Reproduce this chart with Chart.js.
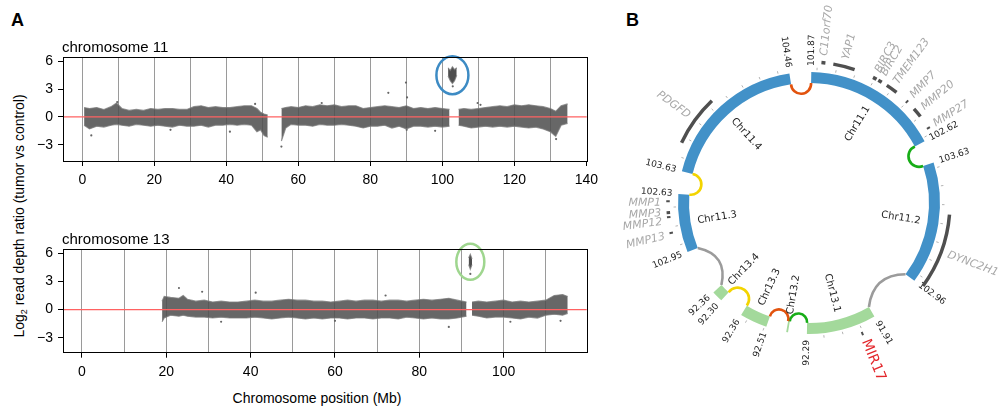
<!DOCTYPE html>
<html>
<head>
<meta charset="utf-8">
<script src="https://cdn.jsdelivr.net/npm/chart.js@4.4.1/dist/chart.umd.min.js"></script>
<style>
  body { margin:0; background:#fff; width:998px; height:412px; overflow:hidden; position:relative; font-family:"Liberation Sans", Arial, sans-serif; color:#000; }
  canvas { position:absolute; }
  #c11 { left:0; top:30px; }
  #c13 { left:0; top:222px; }
  #ring { left:620px; top:0; }
  .panel { position:absolute; font-weight:bold; font-size:18px; line-height:18px; }
  .ylab { position:absolute; left:20px; top:216px; transform:translate(-50%,-50%) rotate(-90deg); white-space:nowrap; font-size:14px; }
  .ylab sub { font-size:9px; }
  .xlab { position:absolute; left:317px; top:398px; transform:translate(-50%,-50%); white-space:nowrap; font-size:14px; }
</style>
</head>
<body>
<div class="panel" style="left:11px;top:11px">A</div>
<div class="panel" style="left:626px;top:11px">B</div>
<div class="ylab">Log<sub>2</sub> read depth ratio (tumor vs control)</div>
<div class="xlab">Chromosome position (Mb)</div>
<canvas id="c11" width="610" height="165"></canvas>
<canvas id="c13" width="610" height="165"></canvas>
<canvas id="ring" width="378" height="412"></canvas>
<script>
// ---- panel A: read depth ratio, chromosome 11 (band limits per bin, Mb) ----
const chr11Pos  = [0.5,2,4,6,8,9.5,11,13,15,17,19,21,23,25,27,29,31,33,35,37,39,41,43,45,47,48.5,49.5,50.5,51.5,53,55.3,56.5,58,
  60,62,64,66,68,70,72,74,76,78,80,82,84,86,88,90,92,94,96,98,100,102,103.2,104.5,106,108,
  110,112,114,116,118,120,122,124,126,128,130,131.5,133,134.8];
const chr11High = [1.0,0.9,1.0,0.8,1.1,1.5,0.9,0.7,0.8,0.7,0.9,0.8,0.9,0.9,0.8,0.8,1.1,1.2,1.0,1.1,1.0,1.0,1.1,1.2,1.2,0.9,0.5,0.3,0.2,null,0.9,1.0,1.1,
  1.0,1.2,1.1,1.3,1.2,1.3,1.1,1.2,1.2,0.9,1.0,1.1,1.2,1.1,1.0,1.2,0.9,1.0,0.9,1.0,0.9,0.8,null,0.8,0.9,0.8,
  0.9,1.0,1.1,1.2,1.1,1.3,1.2,1.3,1.2,1.1,0.9,0.6,1.2,1.4];
const chr11Low  = [-0.9,-1.3,-1.0,-1.1,-0.9,-0.8,-0.9,-1.0,-0.8,-0.9,-1.0,-0.9,-1.0,-1.1,-0.9,-1.0,-1.0,-0.9,-1.1,-0.9,-0.9,-0.8,-0.9,-0.8,-0.9,-1.6,-1.4,-2.0,-2.2,null,-2.6,-1.2,-0.8,
  -0.9,-0.9,-1.0,-0.8,-0.9,-0.9,-0.8,-0.9,-1.0,-1.2,-1.0,-1.0,-0.9,-1.2,-1.0,-1.3,-1.0,-1.0,-1.1,-1.0,-1.1,-1.0,null,-0.9,-1.0,-1.2,
  -1.1,-1.0,-1.1,-1.0,-1.1,-1.0,-1.1,-1.2,-1.1,-1.3,-1.6,-2.1,-0.9,-0.7];
const chr11AmpPos  = [101.6,102.2,102.8,103.4,104.0];
const chr11AmpHigh = [5.3,5.0,5.4,5.1,5.3];
const chr11AmpLow  = [4.4,3.9,3.6,3.9,4.5];
const chr11OutX = [2.5,9.7,24.5,41,48,55.3,66.5,85,89.9,90.2,90.1,98,102.9,109.8,110.6,131.6];
const chr11OutY = [-2.0,1.6,-1.4,-1.6,1.4,-3.2,1.5,2.6,3.7,2.1,-1.4,-1.5,3.3,1.5,1.3,-2.4];

// ---- chromosome 13 ----
const chr13Pos  = [19,19.5,21,23,24,25,27,29,31,33,35,37,39,41,43,45,47,49,51,53,55,57,59,61,63,65,67,69,71,73,75,77,79,81,83,85,87,89,
  91.2,91.8,92.5,94,96,98,100,102,104,106,108,110,112,114,115.2];
const chr13High = [0.9,1.4,1.3,1.2,1.5,1.1,0.9,1.0,0.8,0.9,0.8,0.8,0.9,1.0,0.9,0.9,1.0,1.1,1.0,1.0,0.9,0.9,0.8,0.9,1.0,0.9,1.0,1.0,0.9,1.0,1.0,0.9,1.0,1.1,1.0,1.1,1.2,1.0,
  0.8,null,0.8,0.9,0.8,0.9,1.0,0.8,0.9,0.8,0.9,1.0,1.5,1.6,1.4];
const chr13Low  = [-1.3,-0.9,-0.6,-0.7,-0.6,-0.7,-0.8,-0.8,-0.9,-0.8,-0.9,-0.9,-0.9,-0.8,-0.9,-1.0,-0.9,-0.8,-0.9,-1.0,-0.9,-1.0,-0.9,-0.9,-1.0,-0.9,-0.9,-1.0,-0.9,-0.9,-1.0,-0.8,-0.9,-1.0,-0.9,-1.0,-1.0,-0.9,
  -0.7,null,-0.6,-0.7,-0.9,-0.8,-0.8,-0.9,-1.0,-0.8,-0.9,-0.6,-0.5,-0.6,-0.4];
const chr13AmpPos  = [91.7,92.1,92.5];
const chr13AmpHigh = [5.5,5.9,5.4];
const chr13AmpLow  = [4.8,4.3,4.8];
const chr13OutX = [23,28.5,41.2,33,60,72,87,92.1,101.6,113.5];
const chr13OutY = [2.3,1.9,1.8,-1.3,-1.2,1.5,-1.85,3.8,-1.3,-1.2];

const yTicks = [-3, 0, 3, 6];

// ---- panel B: rearranged segments ----
const segNames = ['Chr11.1','Chr11.2','Chr13.1','Chr13.2','Chr13.3','Chr13.4','Chr11.3','Chr11.4'];
const segFrom  = [101.87, 103.63, 91.91, 92.29, 92.51, 92.30, 102.95, 103.63];
const segTo    = [102.62, 102.96, 92.29, 92.30, 92.36, 92.36, 102.63, 104.46];
const linkType = ['green','gray','green','red','yellow','gray','yellow','red'];

const geneNames = ['PDGFD','C11orf70','YAP1','BIRC3','BIRC2','TMEM123','MMP7','MMP20','MMP27','MMP1','MMP3','MMP12','MMP13','DYNC2H1','MIR17'];
const geneSeg   = ['Chr11.4','Chr11.1','Chr11.1','Chr11.1','Chr11.1','Chr11.1','Chr11.1','Chr11.1','Chr11.1','Chr11.3','Chr11.3','Chr11.3','Chr11.3','Chr11.2','Chr13.1'];
const geneStart = [103.77,101.92,101.98,102.19,102.22,102.27,102.395,102.45,102.565,102.665,102.72,102.745,102.825,102.965,92.00];
const geneEnd   = [104.03,101.94,102.09,102.21,102.24,102.33,102.405,102.50,102.575,102.675,102.735,102.755,102.835,103.35,92.01];

// layout of the circle (degrees)
const START_DEG = 1;
const gapAfter = [10.1, 23.6, 8.3, 9.0, 10.8, 21.1, 10.0, 9.6];
const labelNudge = { MMP1: -0.7, MMP12: -1.6, MMP13: -0.8 };
const LINK_COLORS = { green:'#17ad17', gray:'#9b9b9b', red:'#e2530e', yellow:'#f3d400' };
const BLUE = '#4291c8', GREEN = '#a3d99b';
const AX_FONT = { family:'"Liberation Sans", Arial, sans-serif', size:14 };

const panelDeco = {
  id: 'panelDeco',
  afterDatasetsDraw(chart, args, o) {
    const { ctx, chartArea: a, scales: { x, y } } = chart;
    ctx.save();
    const y0 = y.getPixelForValue(0);
    ctx.strokeStyle = '#ff6262';
    ctx.lineWidth = 1.3;
    ctx.beginPath(); ctx.moveTo(a.left, y0); ctx.lineTo(a.right, y0); ctx.stroke();
    // ring around the amplified cluster
    const ax = o.ampPos.reduce((s, v) => s + v, 0) / o.ampPos.length;
    const ay = (Math.max(...o.ampHigh) + Math.min(...o.ampLow)) / 2;
    ctx.strokeStyle = o.ringColor;
    ctx.lineWidth = 2.5;
    ctx.beginPath();
    ctx.ellipse(x.getPixelForValue(ax), y.getPixelForValue(ay), o.rx, o.ry, 0, 0, Math.PI * 2);
    ctx.stroke();
    ctx.strokeStyle = '#000';
    ctx.lineWidth = 1;
    ctx.strokeRect(Math.round(a.left) + 0.5, Math.round(a.top) + 0.5, Math.round(a.right - a.left), Math.round(a.bottom - a.top));
    ctx.fillStyle = '#000';
    ctx.font = '15px "Liberation Sans", Arial, sans-serif';
    ctx.textAlign = 'left';
    ctx.textBaseline = 'alphabetic';
    ctx.fillText(o.title, a.left - 1, a.top - 5);
    ctx.restore();
  }
};

function band(pos, vals, extra) {
  return Object.assign({
    data: pos.map((x, i) => ({ x, y: vals[i] })),
    pointRadius: 0, borderWidth: 1.2, borderColor: 'rgba(120,120,120,0.75)',
    tension: 0, spanGaps: false, fill: false
  }, extra);
}

function makeChr(id, d) {
  return new Chart(document.getElementById(id), {
    type: 'line',
    data: {
      datasets: [
        band(d.pos, d.high, {}),
        band(d.pos, d.low, { fill: '-1', backgroundColor: 'rgba(78,78,78,0.86)' }),
        band(d.ampPos, d.ampHigh, {}),
        band(d.ampPos, d.ampLow, { fill: '-1', backgroundColor: 'rgba(60,60,60,0.9)' }),
        { data: d.outX.map((x, i) => ({ x, y: d.outY[i] })), showLine: false, pointRadius: 1.1,
          pointBackgroundColor: '#666', pointBorderWidth: 0 }
      ]
    },
    options: {
      responsive: false, animation: false, events: [],
      layout: { autoPadding: false, padding: d.padding },
      plugins: {
        legend: { display: false }, tooltip: { enabled: false },
        panelDeco: { title: d.title, ringColor: d.ringColor, rx: d.rx, ry: d.ry,
                     ampPos: d.ampPos, ampHigh: d.ampHigh, ampLow: d.ampLow }
      },
      scales: {
        x: {
          type: 'linear', min: d.xMin, max: d.xMax,
          afterFit: s => { s.height = 30; s.paddingLeft = 0; s.paddingRight = 0; },
          border: { display: false },
          grid: {
            color: c => (c.tick && c.tick.value >= 0 && c.tick.value < d.xMax - 1) ? '#9a9a9a' : 'rgba(0,0,0,0)',
            lineWidth: 1, tickLength: 5,
            tickColor: c => (c.tick && c.tick.value % 20 === 0) ? '#000' : 'rgba(0,0,0,0)'
          },
          ticks: { stepSize: 10, includeBounds: false, autoSkip: false, maxRotation: 0, padding: 6,
                   color: '#000', font: AX_FONT, callback: v => (v % 20 === 0 ? String(v) : '') }
        },
        y: {
          min: d.yMin, max: d.yMax,
          afterFit: s => { s.width = 40; s.paddingTop = 0; s.paddingBottom = 0; },
          afterBuildTicks: s => { s.ticks = yTicks.map(v => ({ value: v })); },
          border: { display: false },
          grid: { drawOnChartArea: false, tickLength: 5, tickColor: '#000' },
          ticks: { padding: 5, color: '#000', font: AX_FONT, callback: v => (v < 0 ? '\u2212' + Math.abs(v) : String(v)) }
        }
      }
    },
    plugins: [panelDeco]
  });
}

makeChr('c11', {
  title: 'chromosome 11', pos: chr11Pos, high: chr11High, low: chr11Low,
  ampPos: chr11AmpPos, ampHigh: chr11AmpHigh, ampLow: chr11AmpLow, outX: chr11OutX, outY: chr11OutY,
  xMin: -5.36, xMax: 140.1, yMin: -4.76, yMax: 6.46,
  padding: { left: 23, right: 23.3, top: 27, bottom: 4 },
  ringColor: '#3d8bc4', rx: 16, ry: 19
});
makeChr('c13', {
  title: 'chromosome 13', pos: chr13Pos, high: chr13High, low: chr13Low,
  ampPos: chr13AmpPos, ampHigh: chr13AmpHigh, ampLow: chr13AmpLow, outX: chr13OutX, outY: chr13OutY,
  xMin: -4.5, xMax: 119.7, yMin: -4.6, yMax: 6.43,
  padding: { left: 23, right: 23.3, top: 27.3, bottom: 4.3 },
  ringColor: '#9fd68f', rx: 14, ry: 18
});

// ---- panel B ----
const mbTotal = segFrom.reduce((s, v, i) => s + Math.abs(segTo[i] - v), 0);
const degPerMb = (360 - gapAfter.reduce((s, v) => s + v, 0)) / mbTotal;
const arcValues = [], arcColors = [];
segNames.forEach((n, i) => {
  arcValues.push(Math.abs(segTo[i] - segFrom[i]) * degPerMb);
  arcColors.push(n.startsWith('Chr11') ? BLUE : GREEN);
  arcValues.push(gapAfter[i]);
  arcColors.push('rgba(0,0,0,0)');
});

function radialText(ctx, cx, cy, a, r, text, mode) {
  const th = (((a + Math.PI / 2) % (2 * Math.PI)) + 2 * Math.PI) % (2 * Math.PI);
  const right = th < Math.PI;
  ctx.save();
  ctx.translate(cx + r * Math.cos(a), cy + r * Math.sin(a));
  ctx.rotate(right ? a : a + Math.PI);
  ctx.textBaseline = 'middle';
  ctx.textAlign = mode === 'center' ? 'center' : (right ? 'left' : 'right');
  ctx.fillText(text, 0, 0);
  ctx.restore();
}

const ringDeco = {
  id: 'ringDeco',
  afterDatasetsDraw(chart) {
    const ctx = chart.ctx;
    const arcs = chart.getDatasetMeta(0).data;
    const cx = arcs[0].x, cy = arcs[0].y;
    const rOut = arcs[0].outerRadius, rIn = arcs[0].innerRadius;
    const P = (a, r) => [cx + r * Math.cos(a), cy + r * Math.sin(a)];
    const seg = i => arcs[2 * i];
    const angleOf = (i, mb) => {
      const s = seg(i);
      return s.startAngle + (mb - segFrom[i]) / (segTo[i] - segFrom[i]) * (s.endAngle - s.startAngle);
    };
    const n = segNames.length;
    ctx.save();

    // links between neighbouring segment ends
    ctx.lineWidth = 2.6;
    for (let i = 0; i < n; i++) {
      const a1 = seg(i).endAngle;
      let a2 = seg((i + 1) % n).startAngle;
      if (a2 < a1) a2 += Math.PI * 2;
      const p1 = P(a1, rIn), p2 = P(a2, rIn);
      ctx.strokeStyle = LINK_COLORS[linkType[i]];
      ctx.beginPath();
      if (a2 - a1 > 0.3) {
        const c = P((a1 + a2) / 2, rIn * 0.8);
        ctx.moveTo(p1[0], p1[1]);
        ctx.quadraticCurveTo(c[0], c[1], p2[0], p2[1]);
      } else {
        const mx = (p1[0] + p2[0]) / 2, my = (p1[1] + p2[1]) / 2;
        const rad = Math.hypot(p2[0] - p1[0], p2[1] - p1[1]) / 2;
        const al = Math.atan2(p1[1] - my, p1[0] - mx);
        const inward = Math.cos(al + Math.PI / 2) * (cx - mx) + Math.sin(al + Math.PI / 2) * (cy - my) > 0;
        ctx.arc(mx, my, rad, al, inward ? al + Math.PI : al - Math.PI, !inward);
      }
      ctx.stroke();
    }

    // 100 kb ticks
    ctx.strokeStyle = '#b3b3b3';
    ctx.lineWidth = 1;
    for (let i = 0; i < n; i++) {
      const lo = Math.min(segFrom[i], segTo[i]), hi = Math.max(segFrom[i], segTo[i]);
      for (let k = Math.ceil(lo * 10 + 1e-6); k <= Math.floor(hi * 10 - 1e-6); k++) {
        const a = angleOf(i, k / 10);
        const p = P(a, rOut + 2), q = P(a, rOut + 4.5);
        ctx.beginPath(); ctx.moveTo(p[0], p[1]); ctx.lineTo(q[0], q[1]); ctx.stroke();
      }
    }

    // segment names and end coordinates
    ctx.fillStyle = '#1e1e1e';
    for (let i = 0; i < n; i++) {
      const s = seg(i);
      ctx.font = '10px "DejaVu Sans", sans-serif';
      radialText(ctx, cx, cy, (s.startAngle + s.endAngle) / 2, rOut - 38, segNames[i], 'center');
      if (s.endAngle - s.startAngle < 0.03) continue;
      ctx.font = '9px "DejaVu Sans", sans-serif';
      radialText(ctx, cx, cy, s.startAngle, rOut + 6, segFrom[i].toFixed(2), 'out');
      radialText(ctx, cx, cy, s.endAngle, rOut + 6, segTo[i].toFixed(2), 'out');
    }

    // genes
    geneNames.forEach((g, j) => {
      const i = segNames.indexOf(geneSeg[j]);
      let a1 = angleOf(i, geneStart[j]), a2 = angleOf(i, geneEnd[j]);
      if (a2 < a1) [a1, a2] = [a2, a1];
      const mid = (a1 + a2) / 2;
      if (a2 - a1 < 0.014) { a1 = mid - 0.007; a2 = mid + 0.007; }
      ctx.strokeStyle = '#4f4f4f';
      ctx.lineWidth = 3.5;
      ctx.beginPath(); ctx.arc(cx, cy, rOut + 10, a1, a2); ctx.stroke();
      if (g === 'MIR17') {
        ctx.fillStyle = '#e3262b';
        ctx.font = '14px "DejaVu Sans", sans-serif';
      } else {
        ctx.fillStyle = '#a8a8a8';
        ctx.font = 'italic 11px "DejaVu Sans", sans-serif';
      }
      const la = mid + (labelNudge[g] || 0) * Math.PI / 180;
      radialText(ctx, cx, cy, la, rOut + 17, g, 'out');
    });
    ctx.restore();
  }
};

new Chart(document.getElementById('ring'), {
  type: 'doughnut',
  data: { labels: arcValues.map((v, i) => i), datasets: [{ data: arcValues, backgroundColor: arcColors, borderWidth: 0 }] },
  options: {
    responsive: false, animation: false, events: [],
    rotation: START_DEG, radius: 131, cutout: 120,
    layout: { padding: { left: 58, right: 58, top: 72, bottom: 78 } },
    plugins: { legend: { display: false }, tooltip: { enabled: false } }
  },
  plugins: [ringDeco]
});
</script>
</body>
</html>
